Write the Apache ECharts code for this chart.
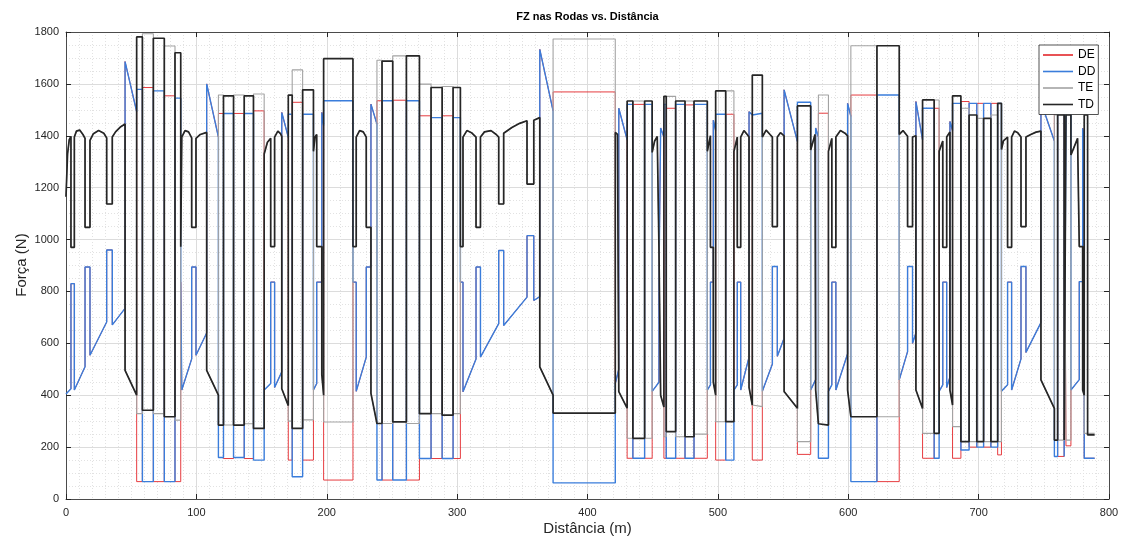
<!DOCTYPE html>
<html><head><meta charset="utf-8">
<script src="https://cdn.jsdelivr.net/npm/echarts@6/dist/echarts.min.js"></script>
<style>html,body{margin:0;padding:0;background:#fff}#c{width:1128px;height:540px}</style>
</head><body><div id="c"></div>
<script>
// ---- DATA (distance m, force N) ----
const seriesNames = ['DE', 'DD', 'TE', 'TD'];
const xTicks = [0, 100, 200, 300, 400, 500, 600, 700, 800];
const yTicks = [0, 200, 400, 600, 800, 1000, 1200, 1400, 1600, 1800];

// Straight stretches: rear wheels (TE = TD) and front wheels (DE = DD)
const straightRear = [
  [[0,1165],[1.2,1330],[2.5,1385],[3.8,1398],[3.8,970],[6.4,970],[6.4,1395],[8,1418],[10.5,1422],[13,1405],[14.6,1390],[14.6,1047],[18.4,1047],[18.4,1382],[21,1408],[25,1420],[29,1410],[31.2,1392],[31.2,1137],[35.5,1137],[35.5,1395],[38,1415],[42,1435],[45.3,1445],[45.3,496],[54.2,400]],
  [[88.0,972],[88.8,972],[88.8,1395],[91.3,1420],[94,1415],[96.4,1392],[96.4,1047],[99.7,1047],[99.7,1390],[103,1405],[107.9,1413],[107.9,496],[116.9,400]],
  [[152.0,1330],[154.5,1375],[157,1390],[157,973],[160,973],[160,1395],[162.5,1418],[164.5,1408],[165.5,1398],[165.5,425],[170.5,360]],
  [[189.8,1340],[191,1395],[192.3,1405],[192.3,973],[196.2,973],[196.2,480],[197.6,400]],
  [[220.1,973],[222.6,973],[222.6,1395],[225.2,1420],[228,1415],[230.3,1395],[230.3,1047],[233.9,1047],[233.9,407],[238.5,291]],
  [[302.5,973],[304.5,973],[304.5,1395],[307.5,1420],[311,1412],[314.5,1395],[314.5,1047],[317.9,1047],[317.9,1395],[321,1415],[326,1420],[330,1405],[331.9,1395],[331.9,1137],[335.7,1137],[335.7,1410],[342,1432],[348,1448],[353.6,1458],[353.6,1214],[358.8,1214],[358.8,1460],[363.4,1470],[363.4,509],[373.6,400]],
  [[421.3,1413],[423,1405],[424,1398],[424,414],[430.4,350]],
  [[449.6,1336],[451.5,1380],[453.5,1397],[454.8,1390],[454.8,970],[456.1,970],[456.1,400],[458.6,355]],
  [[491.9,1340],[494.3,1400],[494.3,970],[496.5,970],[496.5,450],[498.3,400]],
  [[512.3,1340],[514.9,1395],[514.9,970],[517.5,970],[517.5,1395],[520,1420],[522.5,1405],[523.9,1395],[523.9,430],[526.4,362]],
  [[534.1,1395],[537,1422],[540,1405],[541.8,1395],[541.8,1050],[545.6,1050],[545.6,1395],[548,1412],[550.8,1400],[550.8,414],[561.0,350]],
  [[571.2,1345],[574.5,1405],[575,1400],[575,420],[577.1,290]],
  [[584.8,1340],[587.4,1390],[587.4,970],[590.5,970],[590.5,1395],[594,1420],[597.5,1410],[599.5,1400],[599.5,420],[602.0,317]],
  [[639.1,1405],[642,1420],[645.5,1398],[645.5,1050],[649.3,1050],[649.3,1395],[651.9,1400],[651.9,420],[657.0,349]],
  [[669.7,1340],[672.5,1380],[672.5,970],[675.5,970],[675.5,1395],[678.0,1415],[678.0,420],[680.0,362]],
  [[717.5,1347],[719,1380],[722.2,1395],[722.2,970],[725.3,970],[725.3,1395],[727.5,1418],[730,1412],[732.5,1395],[732.5,1050],[736.3,1050],[736.3,1395],[740,1405],[744,1414],[747.8,1418],[747.8,459],[758.1,349]],
  [[770.8,1326],[775.9,1390],[777.2,1395],[777.2,973],[779.8,973],[779.8,420],[781.0,400]]
];
const straightFront = [
  [[0,405],[3.8,425],[3.8,830],[6.4,830],[6.4,420],[14.6,510],[14.6,894],[18.4,894],[18.4,554],[31.2,682],[31.2,960],[35.5,960],[35.5,671],[45.3,735],[45.3,1686],[54.2,1493]],
  [[88.0,836],[88.8,836],[88.8,420],[96.4,540],[96.4,894],[99.7,894],[99.7,554],[107.9,640],[107.9,1600],[116.9,1395]],
  [[152.0,420],[157,445],[157,836],[160,836],[160,430],[165.5,490],[165.5,1490],[170.5,1394]],
  [[189.8,420],[192.3,445],[192.3,836],[196.2,836],[196.2,1490],[197.6,1440]],
  [[220.1,836],[222.6,836],[222.6,415],[230.3,547],[230.3,894],[233.9,894],[233.9,1522],[238.5,1445]],
  [[302.5,836],[304.5,836],[304.5,413],[314.5,540],[314.5,894],[317.9,894],[317.9,547],[331.9,676],[331.9,958],[335.7,958],[335.7,669],[353.6,778],[353.6,1015],[358.8,1015],[358.8,765],[363.4,780],[363.4,1733],[373.6,1496]],
  [[421.3,445],[424,500],[424,1506],[430.4,1384]],
  [[449.6,415],[454.8,450],[454.8,836],[456.1,836],[456.1,1430],[458.6,1395]],
  [[491.9,420],[494.3,440],[494.3,836],[496.5,836],[496.5,1460],[498.3,1420]],
  [[512.3,420],[514.9,440],[514.9,836],[517.5,836],[517.5,420],[523.9,547],[523.9,1493],[526.4,1480]],
  [[534.1,415],[541.8,520],[541.8,896],[545.6,896],[545.6,550],[550.8,620],[550.8,1577],[561.0,1378]],
  [[571.2,420],[575,460],[575,1430],[577.1,1395]],
  [[584.8,415],[587.4,440],[587.4,836],[590.5,836],[590.5,420],[599.5,560],[599.5,1525],[602.0,1475]],
  [[639.1,459],[645.5,568],[645.5,896],[649.3,896],[649.3,600],[651.9,640],[651.9,1532],[657.0,1384]],
  [[669.7,415],[672.5,440],[672.5,836],[675.5,836],[675.5,430],[678.0,470],[678.0,1455],[680.0,1420]],
  [[717.5,415],[722.2,440],[722.2,836],[725.3,836],[725.3,420],[732.5,540],[732.5,896],[736.3,896],[736.3,565],[747.8,680],[747.8,1530],[758.1,1380]],
  [[770.8,420],[777.2,460],[777.2,838],[779.8,838],[779.8,1429],[781.0,1395]]
];

// Corners: switch distances and the level each wheel holds between them
const cornerEdges = [
  [54.2,58.6,67.0,75.4,83.6,88.0],
  [116.9,120.8,128.5,136.7,143.8,152.0],
  [170.5,173.5,181.5,189.8],
  [197.6,220.1],
  [238.5,242.4,250.6,261.1,271.1,280.0,288.5,296.9,302.5],
  [373.6,421.3],
  [430.4,434.8,443.8,449.6],
  [458.6,460.4,467.6,474.8,481.7,491.9],
  [498.3,506.0,512.3],
  [526.4,534.1],
  [561.0,571.2],
  [577.1,584.8],
  [602.0,622.0,639.1],
  [657.0,665.9,669.7],
  [680.0,686.4,692.7,698.6,703.8,709.4,714.6,717.5],
  [758.1,760.6,765.6,767.0,770.8],
  [781.0,783.6,789.0]
];
const cornerTD = [
  [1781,342,1776,317,1720],[285,1554,285,1554,272],[1557,272,1577],[1697],
  [291,1688,297,1708,329,1586,323,1586],[331],[1534,234,1534],[1552,260,1534,240,1534],
  [1573,298],[1634],[1515],[285],[317,1747],[1538,253],
  [1554,221,1480,221,1467,221,1525],[227,1480,227,1480],[1480,247]
];
const cornerTE = [
  [329,1793,329,1746,304],[1557,285,1557,290,1561],[300,1654,305],[297],
  [1691,291,1708,291,1599,329,1590,329],[1773],[234,1534,234],[240,1552,240,1534,250],
  [298,1573],[356],[221],[1557],[1747,317],[253,1538],
  [279,1506,221,1467,221,1480,221],[1480,227,1480,227],[253,253]
];
const cornerDD = [
  [1579,67,1573,67,1545],[160,1486,160,1486,150],[1483,86,1483],[1535],
  [73,1535,73,1535,156,1470,156,1470],[62],[1521,157,1521],[1521,157,1521,157,1521],
  [1483,150],[1487],[1529],[157],[67,1557],[1506,157],
  [1525,189,1525,200,1525,200,1525],[164,1500,164,1500],[157,157]
];
const cornerDE = [
  [67,1586,67,1554,67],[1486,156,1486,156,1496],[150,1529,150],[73],
  [1535,73,1537,73,1477,156,1477,156],[1569],[157,1521,157],[157,1506,157,1519,157],
  [150,1483],[150],[172],[1487],[1557,67],[157,1506],
  [157,1532,200,1525,200,1525,170],[1500,164,1500,205],[157,157]
];

// ---- build line data ----
function stepPoints(edges, vals) {
  const p = [];
  vals.forEach((v, i) => { p.push([edges[i], v], [edges[i + 1], v]); });
  return p;
}
function build(straights, corners) {
  let pts = [];
  for (let i = 0; i < straights.length; i++) {
    pts = pts.concat(straights[i]);
    if (i < cornerEdges.length) pts = pts.concat(stepPoints(cornerEdges[i], corners[i]));
  }
  return pts;
}
const dataDE = build(straightFront, cornerDE);
const dataDD = build(straightFront, cornerDD);
const dataTE = build(straightRear, cornerTE);
const dataTD = build(straightRear, cornerTD);

const colors = { DE: '#e3262a', DD: '#3a7ddb', TE: '#a3a3a3', TD: '#262626' };
const widths = { DE: 0.9, DD: 1.4, TE: 1.1, TD: 1.7 };
const seriesData = { DE: dataDE, DD: dataDD, TE: dataTE, TD: dataTD };

const FONT = 'Liberation Sans, Arial, Helvetica, sans-serif';
const AX = '#262626';

const chart = echarts.init(document.getElementById('c'), null, { renderer: 'canvas' });
const gridBox = { left: 66, top: 32, width: 1043, height: 467 };
const plain = v => String(v);

chart.setOption({
  animation: false,
  backgroundColor: '#ffffff',
  grid: Object.assign({ containLabel: false }, gridBox),
  legend: {
    data: seriesNames,
    orient: 'vertical',
    left: 1039, top: 45,
    padding: [3, 3, 3, 4],
    itemGap: 2.5,
    itemWidth: 30, itemHeight: 1.6,
    icon: 'rect',
    backgroundColor: '#ffffff',
    borderColor: '#262626', borderWidth: 0.8,
    textStyle: { fontFamily: FONT, fontSize: 12, color: '#000', lineHeight: 14 }
  },
  xAxis: [{
    type: 'value', min: xTicks[0], max: xTicks[xTicks.length - 1], interval: 100,
    position: 'bottom',
    axisLine: { show: true, onZero: false, lineStyle: { color: AX, width: 0.8 } },
    axisTick: { show: true, inside: true, length: 5, lineStyle: { color: AX } },
    axisLabel: { color: AX, fontFamily: FONT, fontSize: 11, margin: 8, formatter: plain },
    splitLine: { show: true, lineStyle: { color: '#dcdcdc', width: 1 } },
    minorTick: { show: false, splitNumber: 10 },
    minorSplitLine: { show: true, lineStyle: { color: '#e2e2e2', width: 1, type: [1, 2] } }
  }, {
    type: 'value', min: xTicks[0], max: xTicks[xTicks.length - 1], interval: 100,
    position: 'top',
    axisLine: { show: true, onZero: false, lineStyle: { color: AX, width: 0.8 } },
    axisTick: { show: true, inside: true, length: 5, lineStyle: { color: AX } },
    axisLabel: { show: false }, splitLine: { show: false }
  }],
  yAxis: [{
    type: 'value', min: yTicks[0], max: yTicks[yTicks.length - 1], interval: 200,
    position: 'left',
    axisLine: { show: true, onZero: false, lineStyle: { color: AX, width: 0.8 } },
    axisTick: { show: true, inside: true, length: 5, lineStyle: { color: AX } },
    axisLabel: { color: AX, fontFamily: FONT, fontSize: 11, margin: 7, formatter: plain },
    splitLine: { show: true, lineStyle: { color: '#dcdcdc', width: 1 } },
    minorTick: { show: false, splitNumber: 4 },
    minorSplitLine: { show: true, lineStyle: { color: '#e2e2e2', width: 1, type: [1, 2] } }
  }, {
    type: 'value', min: yTicks[0], max: yTicks[yTicks.length - 1], interval: 200,
    position: 'right',
    axisLine: { show: true, onZero: false, lineStyle: { color: AX, width: 0.8 } },
    axisTick: { show: true, inside: true, length: 5, lineStyle: { color: AX } },
    axisLabel: { show: false }, splitLine: { show: false }
  }],
  series: seriesNames.map(n => ({
    name: n, type: 'line', xAxisIndex: 0, yAxisIndex: 0,
    data: seriesData[n], showSymbol: false, symbol: 'none',
    lineStyle: { color: colors[n], width: widths[n] },
    itemStyle: { color: colors[n] },
    emphasis: { disabled: true }
  })),
  graphic: [
    { type: 'text', x: 587.5, y: 17, style: { text: 'FZ nas Rodas vs. Distância', fill: '#000', font: 'bold 11px ' + FONT, textAlign: 'center', textVerticalAlign: 'middle' } },
    { type: 'text', x: 587.5, y: 529, style: { text: 'Distância (m)', fill: AX, font: '15px ' + FONT, textAlign: 'center', textVerticalAlign: 'middle' } },
    { type: 'text', x: 22, y: 265, rotation: Math.PI / 2, style: { text: 'Força (N)', fill: AX, font: '15px ' + FONT, textAlign: 'center', textVerticalAlign: 'middle' } }
  ]
});
</script>
</body></html>
